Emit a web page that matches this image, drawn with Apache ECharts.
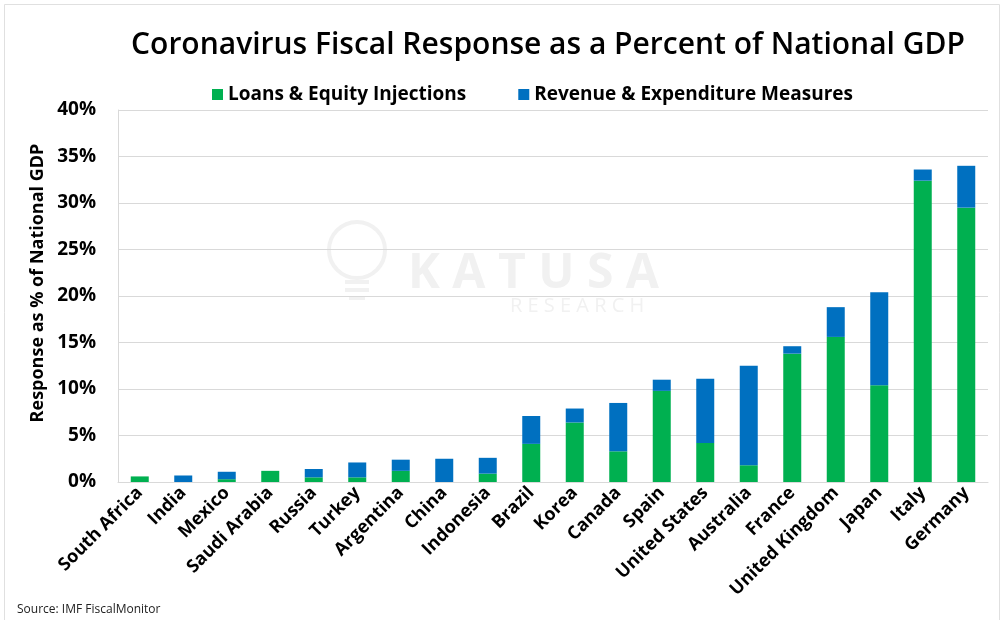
<!DOCTYPE html>
<html>
<head>
<meta charset="utf-8">
<script src="https://cdn.jsdelivr.net/npm/echarts@6/dist/echarts.min.js"></script>
<style>html,body{margin:0;padding:0;background:#fff}#c{width:1004px;height:620px}</style>
</head>
<body>
<div id="c"></div>
<script>
const categories = ["South Africa","India","Mexico","Saudi Arabia","Russia","Turkey","Argentina","China","Indonesia","Brazil","Korea","Canada","Spain","United States","Australia","France","United Kingdom","Japan","Italy","Germany"];
const loansEquity = [0.6,0,0.3,1.2,0.5,0.5,1.2,0,0.9,4.1,6.4,3.3,9.8,4.2,1.8,13.8,15.6,10.4,32.4,29.5];
const revenueExpenditure = [0,0.7,0.8,0,0.9,1.6,1.2,2.5,1.7,3.0,1.5,5.2,1.2,6.9,10.7,0.8,3.2,10.0,1.2,4.5];
const yTicks = [0,5,10,15,20,25,30,35,40];

const FONT = "'Open Sans',sans-serif";
const WM = '#f1f1f1';
const chart = echarts.init(document.getElementById('c'));
chart.setOption({
  backgroundColor: '#fff',
  animation: false,
  title: {
    text: 'Coronavirus Fiscal Response as a Percent of National GDP',
    left: 543, top: 25, textAlign: 'center',
    textStyle: {fontFamily: FONT, fontSize: 30, fontWeight: 600, color: '#000'}
  },
  legend: {
    top: 80, left: 207,
    itemWidth: 11, itemHeight: 11, itemGap: 52,
    icon: 'rect',
    textStyle: {fontFamily: FONT, fontSize: 19, fontWeight: 'bold', color: '#000'},
    data: ['Loans & Equity Injections', 'Revenue & Expenditure Measures']
  },
  grid: {left: 118, right: 16, top: 110, bottom: 138},
  graphic: [
    {type: 'rect', shape: {x: 4.5, y: 4.5, width: 995, height: 640}, style: {fill: 'none', stroke: '#e0e0e0', lineWidth: 1}, z: 0},
    {type: 'circle', shape: {cx: 357, cy: 250, r: 28}, style: {fill: 'none', stroke: WM, lineWidth: 4}, z: 0},
    {type: 'rect', shape: {x: 345, y: 280, width: 24, height: 4}, style: {fill: WM}, z: 0},
    {type: 'rect', shape: {x: 345, y: 288, width: 24, height: 4}, style: {fill: WM}, z: 0},
    {type: 'rect', shape: {x: 349, y: 296, width: 16, height: 4}, style: {fill: WM}, z: 0},
    {type: 'text', left: 408, top: 250, style: {text: 'K A T U S A', fill: WM, font: "bold 48px 'Open Sans', sans-serif"}, z: 0},
    {type: 'text', left: 510, top: 296, style: {text: 'R E S E A R C H', fill: WM, font: "20px 'Open Sans', sans-serif"}, z: 0},
    {type: 'text', x: 38, y: 283, rotation: Math.PI / 2,
      style: {text: 'Response as % of National GDP', fill: '#000', align: 'center', verticalAlign: 'middle',
        font: "bold 18px 'Open Sans', sans-serif"}},
    {type: 'text', left: 17, top: 604, style: {text: 'Source: IMF FiscalMonitor', fill: '#222', font: "12px 'Open Sans', sans-serif"}}
  ],
  xAxis: {
    type: 'category', data: categories,
    axisLine: {lineStyle: {color: '#d9d9d9'}},
    axisTick: {show: false},
    axisLabel: {rotate: 45, interval: 0, margin: 8, color: '#000', fontFamily: FONT, fontSize: 18, fontWeight: 'bold'}
  },
  yAxis: {
    type: 'value', min: 0, max: 40, interval: 5,
    axisLine: {show: true, lineStyle: {color: '#d9d9d9'}},
    axisTick: {show: false},
    splitLine: {lineStyle: {color: '#d9d9d9'}},
    axisLabel: {margin: 22, color: '#000', fontFamily: FONT, fontSize: 19, fontWeight: 'bold',
      formatter: v => yTicks.includes(v) ? v + '%' : ''}
  },
  series: [
    {name: 'Loans & Equity Injections', type: 'bar', stack: 't', data: loansEquity, barWidth: 18, itemStyle: {color: '#00B050'}},
    {name: 'Revenue & Expenditure Measures', type: 'bar', stack: 't', data: revenueExpenditure, barWidth: 18, itemStyle: {color: '#0070C0'}}
  ]
});
</script>
</body>
</html>
